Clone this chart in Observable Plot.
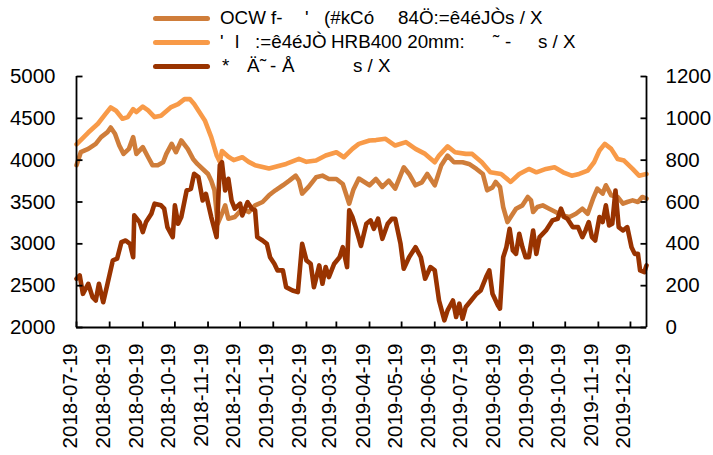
<!DOCTYPE html>
<html><head><meta charset="utf-8">
<script src="https://cdn.jsdelivr.net/npm/d3@7"></script>
<script src="https://cdn.jsdelivr.net/npm/@observablehq/plot@0.6"></script>
<style>
body{margin:0;background:#fff;}
#wrap{position:relative;width:713px;height:455px;font-family:"Liberation Sans",Arial,sans-serif;}
#legend{position:absolute;left:0;top:0;width:713px;height:76px;}
.sw{position:absolute;left:153px;width:57px;height:5px;border-radius:3px;}
.lt{position:absolute;font-size:18.8px;white-space:pre;line-height:1;color:#000;}
svg{position:absolute;left:0;top:0;}
</style></head>
<body><div id="wrap"></div>
<script>
// ---------- data ----------
const seriesColors = ["#CF7D3A", "#F89A48", "#993300"];
// legend texts (segments as they appear)
const legendText = [
  ["OCW f-", "'", "(#kCó", "84Ö:=ê4éJÒs / X"],
  ["'", "l", ":=ê4éJÒ", "HRB400 20mm:", "˜", "-", "s / X"],
  ["*", "Ä", "˜", "-", "Å", "s / X"]
];

const s1Dates = ["2018-07-19","2018-07-23","2018-07-30","2018-08-06","2018-08-11","2018-08-17","2018-08-20","2018-08-24","2018-08-28","2018-09-01","2018-09-06","2018-09-10","2018-09-13","2018-09-19","2018-09-24","2018-09-28","2018-10-03","2018-10-08","2018-10-11","2018-10-16","2018-10-20","2018-10-25","2018-10-31","2018-11-05","2018-11-09","2018-11-14","2018-11-19","2018-11-22","2018-11-25","2018-11-28","2018-12-02","2018-12-05","2018-12-08","2018-12-14","2018-12-21","2018-12-27","2019-01-02","2019-01-09","2019-01-15","2019-01-21","2019-01-28","2019-02-03","2019-02-09","2019-02-12","2019-02-15","2019-02-21","2019-02-28","2019-03-06","2019-03-12","2019-03-19","2019-03-25","2019-03-31","2019-04-04","2019-04-09","2019-04-19","2019-04-25","2019-05-01","2019-05-07","2019-05-13","2019-05-21","2019-05-26","2019-06-01","2019-06-07","2019-06-12","2019-06-19","2019-06-25","2019-07-01","2019-07-07","2019-07-15","2019-07-21","2019-07-28","2019-08-03","2019-08-07","2019-08-12","2019-08-15","2019-08-19","2019-08-22","2019-08-26","2019-08-29","2019-09-03","2019-09-09","2019-09-14","2019-09-17","2019-09-19","2019-09-23","2019-09-28","2019-10-04","2019-10-10","2019-10-16","2019-10-23","2019-10-29","2019-11-04","2019-11-09","2019-11-14","2019-11-18","2019-11-23","2019-11-26","2019-12-01","2019-12-07","2019-12-12","2019-12-16","2019-12-21","2019-12-26","2019-12-30","2020-01-03"];
const s1Values = [3940,4095,4135,4195,4275,4335,4390,4315,4175,4075,4135,4275,4075,4155,4035,3940,3940,3975,4075,4195,4095,4235,4135,4015,3955,3895,3835,3755,3640,3240,3360,3460,3300,3320,3420,3380,3460,3500,3580,3640,3700,3755,3815,3755,3600,3680,3795,3815,3775,3775,3715,3480,3650,3780,3700,3775,3680,3755,3660,3915,3835,3700,3735,3835,3700,3935,4055,3975,3975,3955,3895,3835,3640,3675,3740,3680,3440,3260,3320,3420,3460,3560,3520,3380,3440,3460,3420,3380,3340,3320,3360,3420,3360,3540,3660,3600,3700,3580,3560,3480,3500,3520,3500,3560,3540];

const s2Dates = ["2018-07-19","2018-07-30","2018-08-08","2018-08-15","2018-08-20","2018-08-25","2018-08-31","2018-09-05","2018-09-10","2018-09-13","2018-09-19","2018-09-24","2018-09-30","2018-10-06","2018-10-15","2018-10-22","2018-10-28","2018-11-02","2018-11-06","2018-11-16","2018-11-22","2018-11-27","2018-11-30","2018-12-02","2018-12-08","2018-12-13","2018-12-21","2018-12-27","2019-01-02","2019-01-15","2019-01-31","2019-02-12","2019-02-19","2019-02-28","2019-03-09","2019-03-19","2019-03-26","2019-04-03","2019-04-09","2019-04-19","2019-04-25","2019-05-04","2019-05-13","2019-05-23","2019-06-01","2019-06-10","2019-06-19","2019-06-23","2019-07-01","2019-07-08","2019-07-18","2019-07-24","2019-08-02","2019-08-10","2019-08-20","2019-08-22","2019-08-29","2019-09-06","2019-09-15","2019-09-22","2019-10-01","2019-10-09","2019-10-17","2019-10-25","2019-11-01","2019-11-09","2019-11-15","2019-11-20","2019-11-25","2019-12-01","2019-12-07","2019-12-13","2019-12-21","2019-12-27","2020-01-03"];
const s2Values = [4190,4330,4435,4550,4630,4590,4495,4515,4610,4575,4640,4595,4515,4530,4630,4670,4730,4730,4670,4475,4275,4060,3980,4110,4040,4000,4035,3980,3940,3900,3955,4015,3980,3995,4055,4095,4035,4135,4195,4235,4240,4255,4175,4215,4135,4075,3975,4055,4165,4095,4075,4075,3975,3855,3835,3815,3740,3835,3895,3855,3895,3915,3855,3815,3835,3875,3975,4115,4195,4135,4015,3995,3895,3815,3835];

// series 3 is read on the right axis (0-1200)
const s3Dates = ["2018-07-19","2018-07-22","2018-07-25","2018-07-30","2018-08-03","2018-08-06","2018-08-09","2018-08-13","2018-08-17","2018-08-22","2018-08-26","2018-08-30","2018-09-03","2018-09-07","2018-09-10","2018-09-11","2018-09-16","2018-09-19","2018-09-22","2018-09-27","2018-09-30","2018-10-06","2018-10-09","2018-10-12","2018-10-17","2018-10-19","2018-10-22","2018-10-25","2018-10-30","2018-11-03","2018-11-06","2018-11-10","2018-11-14","2018-11-17","2018-11-22","2018-11-27","2018-11-30","2018-12-02","2018-12-05","2018-12-08","2018-12-11","2018-12-14","2018-12-19","2018-12-21","2018-12-26","2018-12-30","2019-01-02","2019-01-04","2019-01-09","2019-01-13","2019-01-16","2019-01-20","2019-01-23","2019-01-28","2019-01-31","2019-02-06","2019-02-11","2019-02-15","2019-02-19","2019-02-23","2019-02-26","2019-02-28","2019-03-03","2019-03-06","2019-03-09","2019-03-12","2019-03-17","2019-03-22","2019-03-25","2019-03-29","2019-03-31","2019-04-03","2019-04-06","2019-04-11","2019-04-16","2019-04-20","2019-04-23","2019-04-27","2019-05-01","2019-05-06","2019-05-10","2019-05-13","2019-05-18","2019-05-21","2019-05-26","2019-06-01","2019-06-06","2019-06-10","2019-06-15","2019-06-19","2019-06-23","2019-06-28","2019-07-01","2019-07-06","2019-07-09","2019-07-12","2019-07-15","2019-07-18","2019-07-23","2019-07-28","2019-08-01","2019-08-06","2019-08-09","2019-08-12","2019-08-17","2019-08-19","2019-08-22","2019-08-25","2019-08-28","2019-08-31","2019-09-03","2019-09-06","2019-09-09","2019-09-12","2019-09-15","2019-09-19","2019-09-22","2019-09-25","2019-10-01","2019-10-07","2019-10-12","2019-10-15","2019-10-18","2019-10-21","2019-10-26","2019-10-31","2019-11-04","2019-11-07","2019-11-10","2019-11-13","2019-11-16","2019-11-20","2019-11-23","2019-11-26","2019-11-29","2019-12-02","2019-12-05","2019-12-08","2019-12-12","2019-12-16","2019-12-20","2019-12-23","2019-12-26","2019-12-28","2020-01-01","2020-01-03"];
const s3Values = [233,249,161,209,145,129,209,121,209,321,329,408,416,400,336,536,504,456,504,544,592,584,568,480,432,584,496,528,655,663,735,719,607,639,528,432,775,790,655,711,607,568,592,536,599,568,560,432,416,400,336,305,273,273,193,177,169,400,321,305,193,233,297,209,289,241,305,336,384,289,560,528,480,390,496,512,472,520,424,496,520,520,400,281,336,384,336,233,289,273,129,34,82,129,50,114,42,98,129,161,177,241,273,161,106,90,336,384,472,368,352,448,384,336,336,464,352,432,464,512,520,568,528,520,480,480,432,464,504,432,416,528,504,584,488,496,655,480,464,480,384,352,352,273,265,297];

const leftTicks = [2000,2500,3000,3500,4000,4500,5000];
const rightTicks = [0,200,400,600,800,1000,1200];
const xTickDates = ["2018-07-19","2018-08-19","2018-09-19","2018-10-19","2018-11-19","2018-12-19","2019-01-19","2019-02-19","2019-03-19","2019-04-19","2019-05-19","2019-06-19","2019-07-19","2019-08-19","2019-09-19","2019-10-19","2019-11-19","2019-12-19"];
const xDomain = ["2018-07-19","2020-01-03"];
const leftDomain = [2000, 5000];
const rightDomain = [0, 1200];

// ---------- build ----------
const parse = s => new Date(s + "T00:00:00Z");
const toLeft = v => leftDomain[0] + (v - rightDomain[0]) * (leftDomain[1] - leftDomain[0]) / (rightDomain[1] - rightDomain[0]);
const s1 = s1Dates.map((d, i) => ({date: parse(d), value: s1Values[i]}));
const s2 = s2Dates.map((d, i) => ({date: parse(d), value: s2Values[i]}));
const s3 = s3Dates.map((d, i) => ({date: parse(d), value: toLeft(s3Values[i])}));
const xt = xTickDates.map(parse);
const fmt = d3.utcFormat("%Y-%m-%d");
const x0 = parse(xDomain[0]), x1 = parse(xDomain[1]);

const tickRight = {draw(ctx){ ctx.moveTo(0,0); ctx.lineTo(6,0); }};
const tickLeft = {draw(ctx){ ctx.moveTo(0,0); ctx.lineTo(-6,0); }};
const tickUp = {draw(ctx){ ctx.moveTo(0,0); ctx.lineTo(0,-6); }};

const axisW = 1.8;
const lineW = 4.6;
const fs = 20.5;

const chart = Plot.plot({
  width: 713, height: 455,
  marginTop: 76, marginBottom: 128, marginLeft: 76, marginRight: 67,
  x: {type: "utc", domain: [x0, x1], axis: null},
  y: {domain: leftDomain, axis: null},
  style: {fontFamily: '"Liberation Sans", Arial, sans-serif', fontSize: fs + "px", background: "transparent", overflow: "visible", color: "#000"},
  marks: [
    Plot.line(s1, {x: "date", y: "value", stroke: seriesColors[0], strokeWidth: lineW, strokeLinejoin: "round", strokeLinecap: "round"}),
    Plot.line(s2, {x: "date", y: "value", stroke: seriesColors[1], strokeWidth: lineW, strokeLinejoin: "round", strokeLinecap: "round"}),
    Plot.line(s3, {x: "date", y: "value", stroke: seriesColors[2], strokeWidth: lineW, strokeLinejoin: "round", strokeLinecap: "round"}),
    Plot.ruleX([x0], {stroke: "#000", strokeWidth: axisW}),
    Plot.ruleX([x1], {stroke: "#000", strokeWidth: axisW}),
    Plot.ruleY([leftDomain[0]], {stroke: "#000", strokeWidth: axisW}),
    Plot.dot(leftTicks, {y: d => d, frameAnchor: "left", symbol: tickRight, stroke: "#000", fill: "none", strokeWidth: axisW, r: 3}),
    Plot.dot(rightTicks, {y: d => toLeft(d), frameAnchor: "right", symbol: tickLeft, stroke: "#000", fill: "none", strokeWidth: axisW, r: 3}),
    Plot.dot(xt, {x: d => d, frameAnchor: "bottom", symbol: tickUp, stroke: "#000", fill: "none", strokeWidth: axisW, r: 3}),
    Plot.text(leftTicks, {y: d => d, frameAnchor: "left", text: d => String(d), textAnchor: "end", dx: -21, fill: "#000"}),
    Plot.text(rightTicks, {y: d => toLeft(d), frameAnchor: "right", text: d => String(d), textAnchor: "start", dx: 19, fill: "#000"}),
    Plot.text(xt, {x: d => d, frameAnchor: "bottom", text: d => fmt(d), rotate: -90, textAnchor: "end", dy: 16, fill: "#000"})
  ]
});
const wrap = document.getElementById("wrap");
wrap.appendChild(chart);

// legend (HTML, over the top area)
const legendLayout = {
  swatchTop: [16, 40, 64],
  textTop: [9.3, 33.3, 57.3],
  segX: [[220, 305, 324, 398], [220, 235, 255, 331, 493, 505, 538], [222, 247, 260, 270, 282, 353]]
};
const legend = document.createElement("div");
legend.id = "legend";
legendText.forEach((segs, i) => {
  const sw = document.createElement("div");
  sw.className = "sw";
  sw.style.top = legendLayout.swatchTop[i] + "px";
  sw.style.background = seriesColors[i];
  legend.appendChild(sw);
  segs.forEach((t, j) => {
    const s = document.createElement("span");
    s.className = "lt";
    s.textContent = t;
    s.style.left = legendLayout.segX[i][j] + "px";
    s.style.top = legendLayout.textTop[i] + "px";
    legend.appendChild(s);
  });
});
wrap.appendChild(legend);
</script>
</body></html>
